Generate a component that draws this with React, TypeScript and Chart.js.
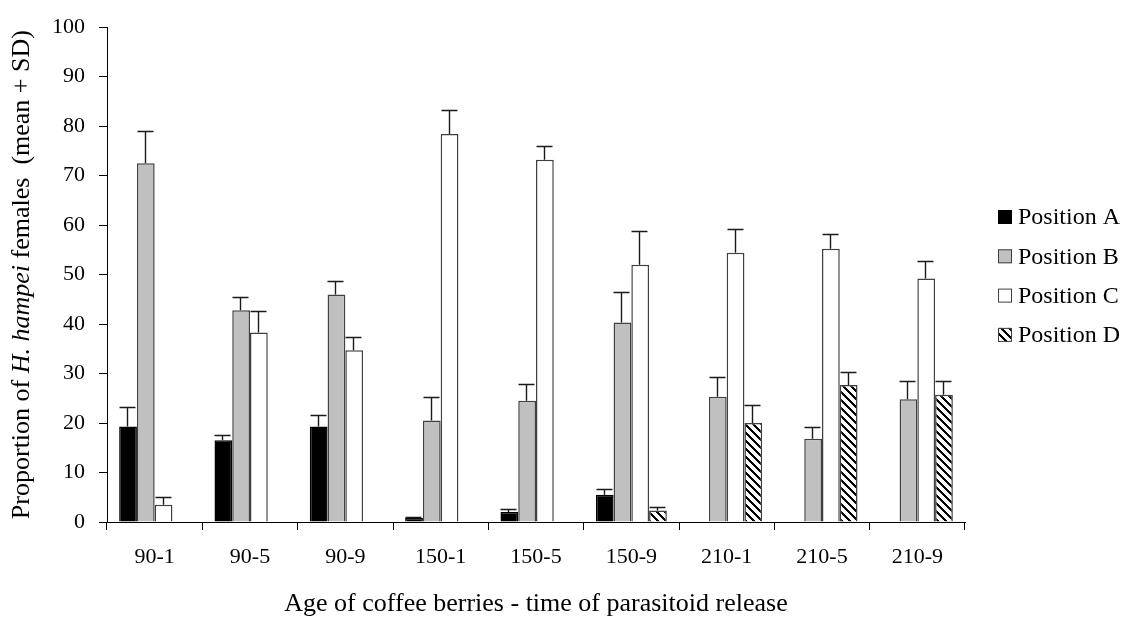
import React, { useEffect, useRef } from "react";
import { Chart, registerables } from "chart.js";

Chart.register(...registerables);

// Age of coffee berries (days) - time of parasitoid release
const categories = ["90-1", "90-5", "90-9", "150-1", "150-5", "150-9", "210-1", "210-5", "210-9"];

// Mean proportions per position
const positionA = [19.3, 16.5, 19.3, 0.8, 2.0, 5.5, 0, 0, 0];
const positionB = [72.5, 42.8, 46.0, 20.5, 24.5, 40.3, 25.3, 16.8, 24.8];
const positionC = [3.5, 38.3, 34.7, 78.4, 73.2, 52.0, 54.4, 55.2, 49.2];
const positionD = [0, 0, 0, 0, 0, 2.3, 20.0, 27.7, 25.7];

// Standard deviations (drawn upward only)
const sdA = [4.0, 1.1, 2.3, 0.3, 0.7, 1.2, 0, 0, 0];
const sdB = [6.5, 2.7, 2.8, 4.8, 3.3, 6.1, 4.0, 2.3, 3.7];
const sdC = [1.5, 4.4, 2.7, 4.9, 2.7, 6.8, 4.8, 3.1, 3.6];
const sdD = [0, 0, 0, 0, 0, 0.7, 3.6, 2.7, 2.7];

const seriesNames = ["Position A", "Position B", "Position C", "Position D"];
const yTicks = { min: 0, max: 100, step: 10 };

const FONT = "'Liberation Serif', 'Times New Roman', serif";

function makeHatch(ctx: CanvasRenderingContext2D): CanvasPattern | string {
  const tile = document.createElement("canvas");
  tile.width = 8;
  tile.height = 8;
  const t = tile.getContext("2d");
  if (!t) return "#888";
  t.fillStyle = "#ffffff";
  t.fillRect(0, 0, 8, 8);
  t.fillStyle = "#000000";
  for (let y = 0; y < 8; y++) {
    for (let x = 0; x < 8; x++) {
      const d = (((x - y) % 8) + 8) % 8;
      if (d <= 2) t.fillRect(x, y, 1, 1);
    }
  }
  return ctx.createPattern(tile, "repeat") || "#888";
}

export default function App() {
  const canvasRef = useRef<HTMLCanvasElement | null>(null);

  useEffect(() => {
    const canvas = canvasRef.current;
    if (!canvas) return;
    const ctx = canvas.getContext("2d");
    if (!ctx) return;
    const hatch = makeHatch(ctx);

    const sds = [sdA, sdB, sdC, sdD];
    const fills: (string | CanvasPattern)[] = ["#000000", "#c0c0c0", "#ffffff", hatch];
    const borders = ["#000000", "#404040", "#404040", "#404040"];

    const errorBars = {
      id: "errorBars",
      afterDatasetsDraw(chart: any) {
        const c = chart.ctx;
        const yScale = chart.scales.y;
        c.save();
        c.strokeStyle = "#1a1a1a";
        c.lineWidth = 1.4;
        chart.data.datasets.forEach((ds: any, di: number) => {
          const meta = chart.getDatasetMeta(di);
          meta.data.forEach((bar: any, i: number) => {
            const sd = sds[di][i];
            if (!sd) return;
            const v = ds.data[i] as number;
            const yTop = yScale.getPixelForValue(v + sd);
            const yBar = yScale.getPixelForValue(v);
            const x = Math.round(bar.x) - 0.5;
            const half = bar.width * 0.45;
            c.beginPath();
            c.moveTo(x, yBar);
            c.lineTo(x, Math.round(yTop) + 0.5);
            c.moveTo(x - half, Math.round(yTop) + 0.5);
            c.lineTo(x + half, Math.round(yTop) + 0.5);
            c.stroke();
          });
        });
        c.restore();
      },
    };

    const annotations = {
      id: "annotations",
      afterDraw(chart: any) {
        const c = chart.ctx;
        const area = chart.chartArea;
        c.save();
        c.fillStyle = "#000";

        // Y axis title with italic species name
        const parts: [string, string][] = [
          ["Proportion of ", "normal"],
          ["H. hampei", "italic"],
          [" females  (mean + SD)", "normal"],
        ];
        const titleSize = 26;
        let total = 0;
        parts.forEach(([t, s]) => {
          c.font = `${s} ${titleSize}px ${FONT}`;
          total += c.measureText(t).width;
        });
        c.translate(22, (area.top + area.bottom) / 2);
        c.rotate(-Math.PI / 2);
        c.textBaseline = "middle";
        c.textAlign = "left";
        let x = -total / 2;
        parts.forEach(([t, s]) => {
          c.font = `${s} ${titleSize}px ${FONT}`;
          c.fillText(t, x, 0);
          x += c.measureText(t).width;
        });
        c.setTransform(1, 0, 0, 1, 0, 0);

        // X axis title
        c.font = `normal ${titleSize}px ${FONT}`;
        c.textAlign = "center";
        c.textBaseline = "middle";
        c.fillText("Age of coffee berries - time of parasitoid release", (area.left + area.right) / 2, 604);

        // Legend
        const box = 14;
        const lx = 998;
        seriesNames.forEach((name, i) => {
          const cy = 217 + i * 39.3;
          c.fillStyle = fills[i] as any;
          c.fillRect(lx, cy - box / 2, box, box);
          c.strokeStyle = borders[i];
          c.lineWidth = 1;
          c.strokeRect(lx + 0.5, cy - box / 2 + 0.5, box - 1, box - 1);
          c.fillStyle = "#000";
          c.textAlign = "left";
          c.textBaseline = "middle";
          c.font = `normal 24px ${FONT}`;
          c.fillText(name, lx + box + 6, cy + 1);
        });
        c.restore();
      },
    };

    const values = [positionA, positionB, positionC, positionD];

    const chart = new Chart(canvas, {
      type: "bar",
      data: {
        labels: categories,
        datasets: values.map((vals, i) => ({
          label: seriesNames[i],
          data: vals,
          backgroundColor: fills[i] as any,
          borderColor: borders[i],
          borderWidth: 1.5,
          categoryPercentage: 0.745,
          barPercentage: 1,
        })),
      },
      options: {
        responsive: false,
        animation: false,
        layout: { padding: { left: 0, top: 25, right: 158, bottom: 0 } },
        plugins: {
          legend: { display: false },
          tooltip: { enabled: false },
        },
        scales: {
          x: {
            afterFit(scale: any) {
              scale.height = 97;
            },
            grid: {
              offset: true,
              drawOnChartArea: false,
              drawTicks: true,
              tickLength: 8,
              color: "#000",
              tickColor: "#000",
            },
            border: { display: true, color: "#000", width: 1 },
            ticks: {
              color: "#000",
              font: { family: FONT, size: 22 },
              padding: 14,
              maxRotation: 0,
            },
          },
          y: {
            min: yTicks.min,
            max: yTicks.max,
            afterFit(scale: any) {
              scale.width = 107;
            },
            grid: {
              drawOnChartArea: false,
              drawTicks: true,
              tickLength: 8,
              color: "#000",
              tickColor: "#000",
            },
            border: { display: true, color: "#000", width: 1 },
            ticks: {
              stepSize: yTicks.step,
              color: "#000",
              font: { family: FONT, size: 22 },
              padding: 14,
            },
          },
        },
      },
      plugins: [errorBars, annotations],
    });

    return () => chart.destroy();
  }, []);

  return (
    <div style={{ position: "absolute", left: 0, top: 0, width: 1123, height: 619, background: "#fff" }}>
      <canvas ref={canvasRef} width={1123} height={619} style={{ display: "block" }} />
    </div>
  );
}
